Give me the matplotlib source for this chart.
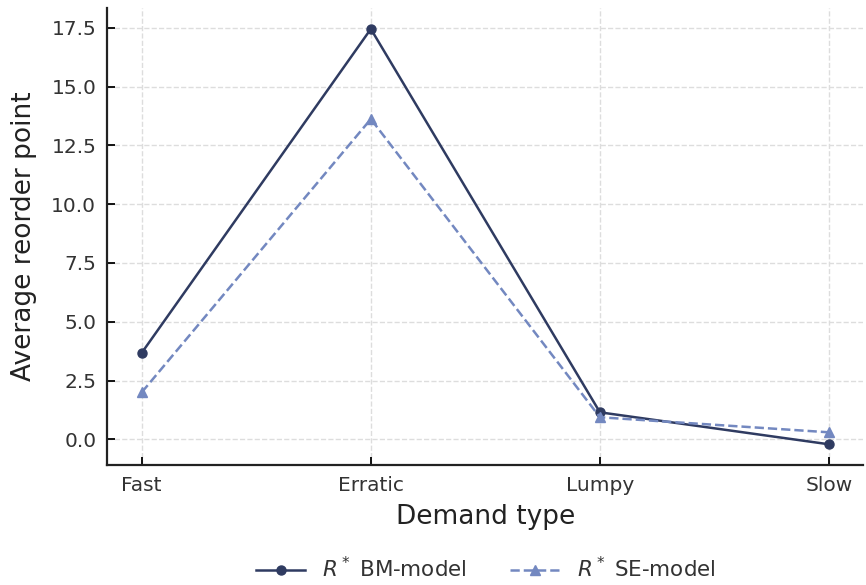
import numpy as np
import matplotlib.pyplot as plt

# data
demand_types = ["Fast", "Erratic", "Lumpy", "Slow"]
r_bm = [3.68, 17.45, 1.15, -0.21]
r_se = [2.0, 13.62, 0.94, 0.30]

fig = plt.figure(figsize=(8.66, 5.85), dpi=100)
ax = fig.add_axes([0.124, 0.205, 0.873, 0.781])

x = np.arange(len(demand_types))
ax.plot(x, r_bm, '-o', color='#2f3b61', lw=1.8, ms=6.5, label=r"$R^*$ BM-model")
ax.plot(x, r_se, '--^', color='#7388c0', lw=1.8, ms=6.5, label=r"$R^*$ SE-model")

ax.set_xticks(x)
ax.set_xticklabels(demand_types)
ax.set_yticks(np.arange(0, 17.6, 2.5))
ax.yaxis.set_major_formatter(plt.FormatStrFormatter('%.1f'))

ax.grid(True, ls='--', color='#dddddd', lw=1)
ax.set_axisbelow(True)
for s in ['top', 'right']:
    ax.spines[s].set_visible(False)
for s in ['left', 'bottom']:
    ax.spines[s].set_linewidth(1.6)
    ax.spines[s].set_color('#222222')

ax.tick_params(direction='in', length=6, width=1.3, labelsize=14.5,
               labelcolor='#333333', pad=8)
ax.set_xlabel("Demand type", fontsize=19, color='#222222', labelpad=6)
ax.set_ylabel("Average reorder point", fontsize=19, color='#222222', labelpad=10)

fig.legend(*ax.get_legend_handles_labels(), loc='center',
           bbox_to_anchor=(0.561, 0.028), ncol=2, frameon=False,
           fontsize=15.5, labelcolor='#333333', columnspacing=2.0,
           handlelength=2.3)

fig.savefig("out.png", dpi=100)
